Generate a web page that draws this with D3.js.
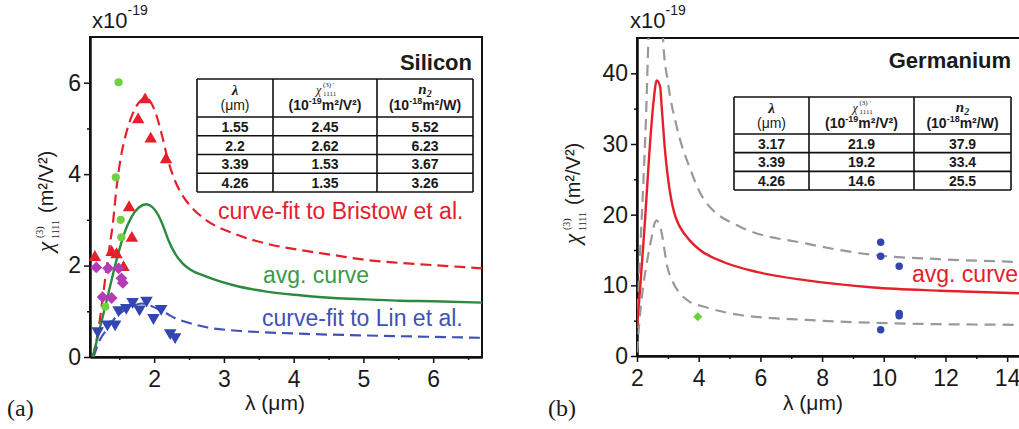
<!DOCTYPE html>
<html>
<head>
<meta charset="utf-8">
<script src="https://cdn.jsdelivr.net/npm/d3@7"></script>
<style>
  body { margin: 0; background: #fff; }
  text { font-family: "Liberation Sans", Arial, sans-serif; fill: #1a1a1a; }
</style>
</head>
<body>
<script>
// ---------- (a) Silicon data ----------
const siXTicks = [2, 3, 4, 5, 6];
const siXMinor = [1.5, 2.5, 3.5, 4.5, 5.5, 6.5];
const siYTicks = [0, 2, 4, 6];
const siYMinor = [1, 3, 5];

const siBristowFit = [[1.12,0],[1.2,0.6],[1.28,1.5],[1.35,2.3],[1.41,2.95],[1.46,3.7],[1.52,4.35],[1.6,4.9],
  [1.7,5.35],[1.8,5.6],[1.88,5.67],[1.96,5.55],[2.04,5.25],[2.12,4.8],[2.2,4.3],[2.3,3.85],[2.4,3.55],
  [2.55,3.25],[2.75,2.99],[3.14,2.7],[3.61,2.48],[4.09,2.34],[4.57,2.23],[5.05,2.12],[5.5,2.06],[6.0,2.01],[6.7,1.94]];
const siAvgCurve = [[1.12,0],[1.2,0.5],[1.32,1.24],[1.46,2.12],[1.57,2.7],[1.67,3.05],[1.78,3.27],[1.89,3.34],
  [1.98,3.27],[2.06,3.1],[2.13,2.86],[2.2,2.57],[2.3,2.26],[2.4,2.06],[2.5,1.93],[2.75,1.76],[3.14,1.57],
  [3.61,1.43],[4.09,1.35],[4.57,1.29],[5.05,1.26],[5.53,1.23],[6.0,1.22],[6.7,1.19]];
const siLinFit = [[1.13,0],[1.22,0.37],[1.32,0.6],[1.41,0.8],[1.55,1.0],[1.7,1.12],[1.82,1.17],[1.95,1.12],
  [2.08,1.03],[2.18,0.95],[2.3,0.85],[2.47,0.76],[2.75,0.65],[3.14,0.58],[3.6,0.54],[4.09,0.51],[5.05,0.47],
  [6.0,0.44],[6.7,0.42]];

const siGreenDots = [[1.49,6.01],[1.45,3.93],[1.52,3.0],[1.53,2.62],[1.3,1.1]];
const siRedTri = [[1.87,5.63],[1.77,5.19],[1.95,4.77],[2.17,4.32],[1.64,3.27],[1.68,2.6],[1.15,2.18],
  [1.39,2.29],[1.46,2.24],[1.56,1.96]];
const siMagenta = [[1.17,1.96],[1.34,1.94],[1.49,1.94],[1.53,1.72],[1.55,1.62],[1.26,1.31],[1.39,1.29]];
const siBlueTri = [[1.19,0.57],[1.33,0.72],[1.44,0.72],[1.49,1.03],[1.6,1.08],[1.69,1.21],[1.79,1.05],
  [1.89,1.24],[1.99,0.86],[2.1,1.06],[2.23,0.53],[2.3,0.44]];

const siTable = [['1.55','2.45','5.52'],['2.2','2.62','6.23'],['3.39','1.53','3.67'],['4.26','1.35','3.26']];

// ---------- (b) Germanium data ----------
const geXTicks = [2, 4, 6, 8, 10, 12, 14];
const geXMinor = [3, 5, 7, 9, 11, 13, 15];
const geYTicks = [0, 10, 20, 30, 40];
const geYMinor = [5, 15, 25, 35];

const geAvgCurve = [[2.0,4.1],[2.1,9.5],[2.2,15.5],[2.26,19.2],[2.4,28.7],[2.53,35.7],[2.64,39.0],[2.75,38.1],
  [2.8,35.3],[2.9,29.5],[3.0,25.3],[3.1,22.4],[3.2,20.4],[3.3,19.1],[3.4,18.2],[3.7,16.4],[4.04,15.0],
  [4.8,13.3],[5.88,11.9],[7.5,10.7],[9.66,9.7],[11.82,9.24],[14.38,8.87],[15,8.8]];
const geUpper = [[2.0,4],[2.1,14.5],[2.2,24],[2.29,33.5],[2.37,44.7],[2.45,52],[2.62,58],[2.78,51],[2.85,44.5],
  [3.0,38.8],[3.29,32.4],[3.72,26.5],[4.15,22.3],[5.34,18.3],[7.5,15.9],[9.66,14.3],[11.82,13.7],[14.38,13.3],[15,13.2]];
const geLower = [[2.0,0.5],[2.1,6],[2.2,9.8],[2.35,14],[2.48,16.9],[2.58,18.9],[2.64,19.2],[2.72,18.6],[2.8,17.4],
  [2.88,15.3],[2.96,13.1],[3.15,10.6],[3.39,8.87],[3.7,7.7],[4.15,7.0],[5.34,5.8],[7.5,5.1],[9.66,4.7],
  [11.82,4.5],[14.38,4.4],[15,4.35]];
const geBlueDots = [[9.9,16.1],[9.9,14.1],[10.5,12.7],[10.5,6.0],[10.5,5.7],[9.9,3.7]];
const geGreenDiamond = [[3.97,5.56]];

const geTable = [['3.17','21.9','37.9'],['3.39','19.2','33.4'],['4.26','14.6','25.5']];

// ---------- drawing ----------
const svg = d3.select('body').append('svg')
  .attr('width', 1019).attr('height', 429)
  .style('display', 'block').style('background', '#fff');

function styleAxis(sel) {
  sel.select('.domain').attr('stroke', '#111').attr('stroke-width', 2);
  sel.selectAll('.tick line').attr('stroke', '#111').attr('stroke-width', 1.5);
  sel.selectAll('.tick text').attr('font-size', 23).attr('fill', '#1a1a1a')
    .attr('font-family', '"Liberation Sans", Arial, sans-serif');
}

function makePanel(left, top, w, h, xDomain, yDomain, xMajor, xMinor, yMajor, yMinor, id) {
  const x = d3.scaleLinear().domain(xDomain).range([0, w]);
  const y = d3.scaleLinear().domain(yDomain).range([h, 0]);
  const g = svg.append('g').attr('transform', `translate(${left},${top})`);
  g.append('clipPath').attr('id', id).append('rect').attr('width', w).attr('height', h);
  const fmt = d3.format('~g');

  g.append('g').attr('transform', `translate(0,${h})`)
    .call(d3.axisBottom(x).tickValues(xMinor).tickSize(3).tickSizeOuter(0).tickFormat(''))
    .call(styleAxis);
  g.append('g')
    .call(d3.axisLeft(y).tickValues(yMinor).tickSize(3).tickSizeOuter(0).tickFormat(''))
    .call(styleAxis);
  g.append('g').attr('transform', `translate(0,${h})`)
    .call(d3.axisBottom(x).tickValues(xMajor).tickSize(6).tickSizeOuter(0).tickPadding(8).tickFormat(fmt))
    .call(styleAxis);
  g.append('g')
    .call(d3.axisLeft(y).tickValues(yMajor).tickSize(6).tickSizeOuter(0).tickPadding(3).tickFormat(fmt))
    .call(styleAxis);

  g.append('rect').attr('width', w).attr('height', h)
    .attr('fill', 'none').attr('stroke', '#111').attr('stroke-width', 2);

  const plot = g.append('g').attr('clip-path', `url(#${id})`);
  return { g, plot, x, y };
}

function curve(p, data, color, dash, width) {
  const line = d3.line().x(d => p.x(d[0])).y(d => p.y(d[1])).curve(d3.curveMonotoneX);
  p.plot.append('path').datum(data)
    .attr('d', line).attr('fill', 'none')
    .attr('stroke', color).attr('stroke-width', width || 2)
    .attr('stroke-dasharray', dash || null);
}

function markers(p, data, type, size, color, rot) {
  p.g.append('g').selectAll('path').data(data).join('path')
    .attr('d', d3.symbol().type(type).size(size))
    .attr('transform', d => `translate(${p.x(d[0])},${p.y(d[1])}) rotate(${rot || 0})`)
    .attr('fill', color);
}

function yLabel(cx, cy) {
  const t = svg.append('g').attr('transform', `translate(${cx},${cy}) rotate(-90)`);
  t.append('text').attr('x', -48).attr('y', 0)
    .style('font-family', '"Liberation Serif", serif').style('font-style', 'italic')
    .attr('font-size', 23).text('χ');
  t.append('text').attr('x', -34).attr('y', -10)
    .style('font-family', '"Liberation Serif", serif').attr('font-size', 10).text('(3)');
  t.append('text').attr('x', -35).attr('y', 6)
    .style('font-family', '"Liberation Serif", serif').attr('font-size', 10).text('1111');
  t.append('text').attr('x', -9).attr('y', 0).attr('font-size', 20).text('(m²/V²)');
}

function exponent(xp, yp, exp) {
  const t = svg.append('text').attr('x', xp).attr('y', yp).attr('font-size', 22);
  t.append('tspan').text('x10');
  t.append('tspan').attr('dy', -13).attr('font-size', 14).text(exp);
}

function drawTable(cols, top, headH, rowH, rows, expChi, expN) {
  const t = svg.append('g');
  const xs = cols, ys = [top, top + headH].concat(rows.map((r, i) => top + headH + rowH * (i + 1)));
  t.selectAll('line.h').data(ys).join('line').attr('class', 'h')
    .attr('x1', xs[0]).attr('x2', xs[xs.length - 1]).attr('y1', d => d).attr('y2', d => d)
    .attr('stroke', '#111').attr('stroke-width', 1.6);
  t.selectAll('line.v').data(xs).join('line').attr('class', 'v')
    .attr('x1', d => d).attr('x2', d => d).attr('y1', ys[0]).attr('y2', ys[ys.length - 1])
    .attr('stroke', '#111').attr('stroke-width', 1.6);

  const cx = [0, 1, 2].map(j => (xs[j] + xs[j + 1]) / 2);
  const cells = [];
  rows.forEach((r, i) => r.forEach((v, j) => cells.push({ i, j, v })));
  t.selectAll('text.cell').data(cells).join('text').attr('class', 'cell')
    .attr('x', d => cx[d.j]).attr('y', d => top + headH + rowH * (d.i + 1) - 4)
    .attr('text-anchor', 'middle').attr('font-weight', 'bold').attr('font-size', 14)
    .text(d => d.v);

  // header, first line
  t.append('text').attr('x', cx[0]).attr('y', top + 16).attr('text-anchor', 'middle')
    .style('font-family', '"Liberation Serif", serif').style('font-style', 'italic')
    .attr('font-weight', 'bold').attr('font-size', 15).text('λ');
  t.append('text').attr('x', cx[1] - 9).attr('y', top + 15)
    .style('font-family', '"Liberation Serif", serif').style('font-style', 'italic')
    .attr('font-size', 12).attr('fill', '#555').text('χ');
  t.append('text').attr('x', cx[1] - 2).attr('y', top + 8)
    .style('font-family', '"Liberation Serif", serif').attr('font-size', 7).attr('fill', '#555').text('(3)  \'');
  t.append('text').attr('x', cx[1] - 2).attr('y', top + 17)
    .style('font-family', '"Liberation Serif", serif').attr('font-size', 7).attr('fill', '#555').text('1111');
  const n2 = t.append('text').attr('x', cx[2]).attr('y', top + 15).attr('text-anchor', 'middle')
    .style('font-family', '"Liberation Serif", serif').style('font-style', 'italic')
    .attr('font-weight', 'bold').attr('font-size', 15);
  n2.append('tspan').text('n');
  n2.append('tspan').attr('dy', 3).attr('font-size', 10).text('2');

  // header, second line
  t.append('text').attr('x', cx[0]).attr('y', top + 31).attr('text-anchor', 'middle')
    .attr('font-size', 14).text('(μm)');
  [[1, expChi, 'm²/V²)'], [2, expN, 'm²/W)']].forEach(([j, e, unit]) => {
    const u = t.append('text').attr('x', cx[j]).attr('y', top + 31).attr('text-anchor', 'middle')
      .attr('font-size', 14).attr('font-weight', 'bold');
    u.append('tspan').text('(10');
    u.append('tspan').attr('dy', -6).attr('font-size', 9).text(e);
    u.append('tspan').attr('dy', 6).text(unit);
  });
}

// ----- panel (a) -----
const pa = makePanel(90, 37, 392, 320, [1.08, 6.7], [0, 7], siXTicks, siXMinor, siYTicks, siYMinor, 'clipA');
curve(pa, siBristowFit, '#e5202a', '11,6', 2.2);
curve(pa, siLinFit, '#3f52b5', '11,6', 2.2);
markers(pa, siGreenDots, d3.symbolCircle, 52, '#72cf3f');
markers(pa, siRedTri, d3.symbolTriangle, 68, '#e5202a');
markers(pa, siMagenta, d3.symbolSquare, 70, '#b43bb8', 45);
markers(pa, siBlueTri, d3.symbolTriangle, 68, '#3345b0', 180);
curve(pa, siAvgCurve, '#2b8a3e', null, 2.4);

svg.append('text').attr('x', 472).attr('y', 70).attr('text-anchor', 'end')
  .attr('font-size', 22).attr('font-weight', 'bold').text('Silicon');
svg.append('text').attr('x', 218).attr('y', 219).attr('font-size', 23).style('fill', '#e5202a')
  .text('curve-fit to Bristow et al.');
svg.append('text').attr('x', 263).attr('y', 283).attr('font-size', 23).style('fill', '#3a9a4a')
  .text('avg. curve');
svg.append('text').attr('x', 262).attr('y', 326).attr('font-size', 23).style('fill', '#3f52b5')
  .text('curve-fit to Lin et al.');
drawTable([197, 273, 377, 473], 79, 38, 18.75, siTable, '-19', '-18');

exponent(92, 28, '-19');
yLabel(53, 204);
svg.append('text').attr('x', 275).attr('y', 410).attr('text-anchor', 'middle')
  .attr('font-size', 21).text('λ (μm)');
svg.append('text').attr('x', 7).attr('y', 416).attr('font-size', 24)
  .style('font-family', '"Liberation Serif", serif').text('(a)');

// ----- panel (b) -----
const pb = makePanel(637, 38, 401, 318, [2, 15], [0, 45], geXTicks, geXMinor, geYTicks, geYMinor, 'clipB');
curve(pb, geUpper, '#999', '11,7', 2.2);
curve(pb, geLower, '#999', '11,7', 2.2);
curve(pb, geAvgCurve, '#e5202a', null, 2.4);
markers(pb, geBlueDots, d3.symbolCircle, 44, '#3345b0');
markers(pb, geGreenDiamond, d3.symbolSquare, 42, '#6ad13c', 45);

svg.append('text').attr('x', 1011).attr('y', 68).attr('text-anchor', 'end')
  .attr('font-size', 22).attr('font-weight', 'bold').text('Germanium');
svg.append('text').attr('x', 912).attr('y', 282).attr('font-size', 23).style('fill', '#e5202a')
  .text('avg. curve');
drawTable([734, 809, 914, 1011], 97, 37, 18.67, geTable, '-19', '-18');

exponent(630, 28, '-19');
yLabel(580, 196);
svg.append('text').attr('x', 813).attr('y', 410).attr('text-anchor', 'middle')
  .attr('font-size', 21).text('λ (μm)');
svg.append('text').attr('x', 548).attr('y', 416).attr('font-size', 24)
  .style('font-family', '"Liberation Serif", serif').text('(b)');
</script>
</body>
</html>
